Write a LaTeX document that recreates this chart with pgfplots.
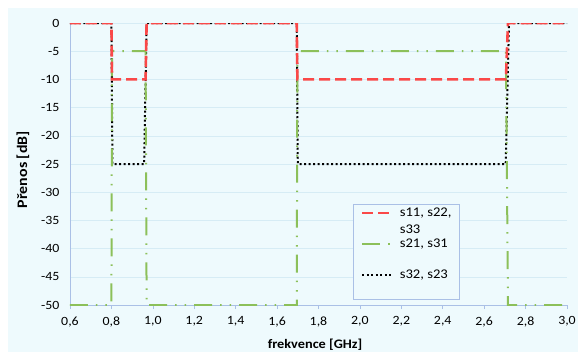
\documentclass[border=0pt]{standalone}
\usepackage{fontspec}
\setmainfont[FakeStretch=1.1]{Carlito}
\usepackage{pgfplots}
\pgfplotsset{compat=1.18}
\definecolor{bgc}{RGB}{238,250,253}
\definecolor{axc}{RGB}{170,192,230}
\definecolor{gridc}{RGB}{214,236,245}
\definecolor{redc}{RGB}{250,72,72}
\definecolor{greenc}{RGB}{140,192,90}
\newcommand\lent[1]{\rule[-20bp]{0pt}{31bp}\parbox[t]{52bp}{#1}}
\begin{document}
\begin{tikzpicture}
\fill[white] (-70bp,-47bp) rectangle (508bp,305bp);
\fill[bgc] (-62bp,-47bp) rectangle (508bp,297bp);
\useasboundingbox (-70bp,-47bp) rectangle (508bp,305bp);
\begin{axis}[
  at={(0,0)}, anchor=south west, scale only axis,
  width=497bp, height=282bp,
  xmin=0.6, xmax=3.0, ymin=-50, ymax=0,
  xtick={0.6,0.8,1.0,1.2,1.4,1.6,1.8,2.0,2.2,2.4,2.6,2.8,3.0},
  ytick={-50,-45,-40,-35,-30,-25,-20,-15,-10,-5,0},
  axis lines*=left,
  axis line style={axc, line width=0.8bp},
  ymajorgrids, grid style={gridc, line width=0.6bp},
  xticklabel style={yshift=-4bp, /pgf/number format/fixed, /pgf/number format/fixed zerofill, /pgf/number format/precision=1, /pgf/number format/use comma},
  yticklabel style={xshift=-3bp, /pgf/number format/fixed, /pgf/number format/use comma},
  /pgf/number format/assume math mode=true,
  tick label style={font=\fontsize{12.6bp}{14bp}\selectfont},
  xtick style={axc, line width=0.6bp},
  ytick style={draw=none},
  major tick length=4bp, tick align=outside,
  xlabel={frekvence [GHz]},
  ylabel={Přenos [dB]},
  xlabel style={font=\fontsize{13bp}{15bp}\selectfont\bfseries,
    at={(axis description cs:0.493,-0.142)}, anchor=center},
  ylabel style={font=\fontsize{14.5bp}{16bp}\selectfont\bfseries,
    at={(axis description cs:-0.0946,0.48)}, anchor=center},
  reverse legend,
  legend style={at={(rel axis cs:0.569,0.358)}, anchor=north west,
    draw=axc, fill=bgc, line width=0.8bp,
    font=\fontsize{13.3bp}{17bp}\selectfont,
    cells={anchor=base west},
    nodes={inner sep=0bp, text depth={}, text height={}},
    inner xsep=8bp, inner ysep=1bp, row sep=0bp, column sep=7bp},
  legend image code/.code={\draw[#1] (0bp,3.5bp) -- (29bp,3.5bp);},
]
\addplot[black, line width=2bp, dash pattern=on 2bp off 2.5bp] coordinates {
(0.6,0) (0.8,0) (0.805,-25) (0.958,-25) (0.97,0) (1.695,0) (1.7,-25) (2.704,-25) (2.72,0) (3.0,0)};
\addlegendentry{\lent{s32, s23}}
\addplot[greenc, line width=2bp, dash pattern=on 18bp off 8bp on 1.5bp off 8bp on 1.5bp off 8bp] coordinates {
(0.6,-50) (0.8,-50) (0.803,-5) (0.965,-5) (0.97,-50) (1.695,-50) (1.698,-5) (2.705,-5) (2.715,-50) (3.0,-50)};
\addlegendentry{\lent{s21, s31}}
\addplot[redc, line width=2.6bp, dash pattern=on 11bp off 5bp] coordinates {
(0.6,0) (0.8,0) (0.803,-10) (0.965,-10) (0.97,0) (1.695,0) (1.698,-10) (2.705,-10) (2.715,0) (3.0,0)};
\addlegendentry{\lent{s11, s22,\\s33}}
\end{axis}
\end{tikzpicture}
\end{document}
